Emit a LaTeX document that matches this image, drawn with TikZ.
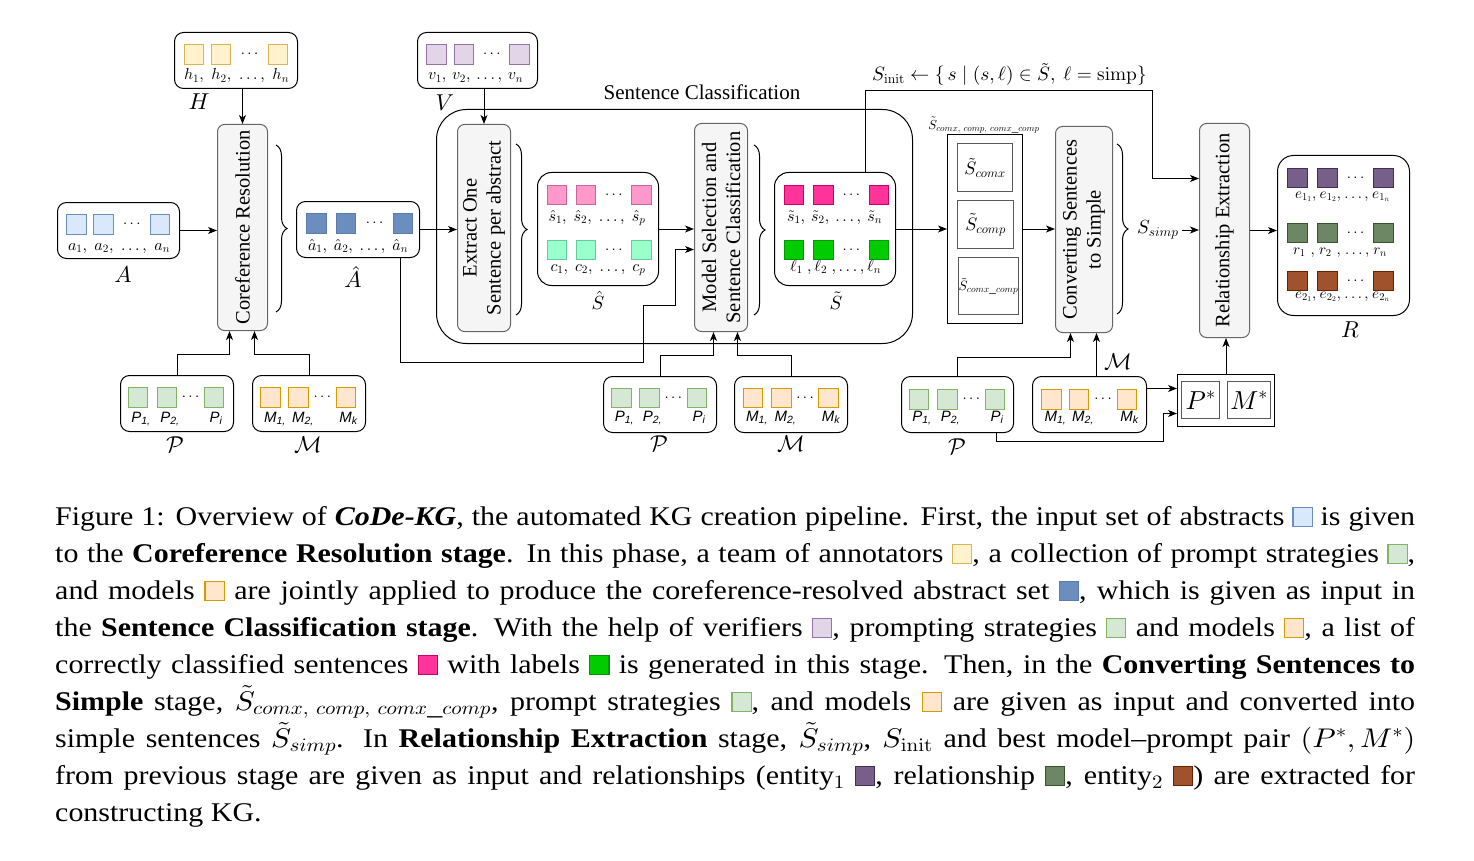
\documentclass[tikz,border=0pt]{standalone}
\usepackage{graphicx}
\usepackage[no-math]{fontspec}
\setmainfont{Liberation Serif}
\newfontfamily\sfx{Liberation Sans}
\DeclareFontShape{OML}{cmm}{m}{it}{<->cmmi10}{}
\DeclareFontShape{OMS}{cmsy}{m}{n}{<->cmsy10}{}
\DeclareFontShape{OT1}{cmr}{m}{n}{<->cmr10}{}
\DeclareFontShape{OMX}{cmex}{m}{n}{<->cmex10}{}
\usetikzlibrary{arrows.meta,calc,decorations.pathreplacing}
\definecolor{aF}{HTML}{DAE8FC}\definecolor{aS}{HTML}{6C8EBF}
\definecolor{hF}{HTML}{FFF2CC}\definecolor{hS}{HTML}{D6B656}
\definecolor{ahF}{HTML}{6C8EBF}\definecolor{ahS}{HTML}{5A7DB0}
\definecolor{vF}{HTML}{E1D5E7}\definecolor{vS}{HTML}{9673A6}
\definecolor{shF}{HTML}{FF99CC}\definecolor{shS}{HTML}{CC6699}
\definecolor{cF}{HTML}{99FFCC}\definecolor{cS}{HTML}{66CC99}
\definecolor{stF}{HTML}{FF3399}\definecolor{stS}{HTML}{CC0066}
\definecolor{lF}{HTML}{00CC00}\definecolor{lS}{HTML}{009900}
\definecolor{pF}{HTML}{D5E8D4}\definecolor{pS}{HTML}{82B366}
\definecolor{mF}{HTML}{FFE6CC}\definecolor{mS}{HTML}{D79B00}
\definecolor{eaF}{HTML}{76608A}\definecolor{eaS}{HTML}{432D57}
\definecolor{rF}{HTML}{6D8764}\definecolor{rS}{HTML}{3A5431}
\definecolor{ebF}{HTML}{A0522D}\definecolor{ebS}{HTML}{6D1F00}
\definecolor{procF}{HTML}{F5F5F5}\definecolor{procS}{HTML}{666666}
\setlength{\fboxsep}{0pt}\setlength{\fboxrule}{1pt}
\newcommand\sw[1]{\raisebox{-1pt}{\fcolorbox{#1S}{#1F}{\rule{0pt}{18pt}\rule{16.2pt}{0pt}}}}
\newcommand\capfont{\fontsize{27}{37}\selectfont}
\newcommand\capw{1225.2pt}
\newcommand\capln[1]{\scalebox{1.11}[1]{\makebox[\capw][s]{#1}}}
\newcommand\trio[6]{%
  \node[sq, fill=#6F, draw=#6S] (#1-1) at (#2,#5) {};
  \node[sq, fill=#6F, draw=#6S] (#1-2) at (#3,#5) {};
  \node[sq, fill=#6F, draw=#6S] (#1-n) at (#4,#5) {};
  \node[dotsn] (#1-d) at ($(#1-2.east)!0.5!(#1-n.west)$) {$\cdots$};}
\tikzset{
  sq/.style={minimum size=19.5pt, inner sep=0pt, line width=1pt},
  cont/.style={draw=black, fill=white, rounded corners=9pt, line width=1pt, inner sep=0pt, anchor=north west},
  plainbox/.style={draw=black, line width=1pt, inner sep=0pt, anchor=north west},
  inbox/.style={draw=black!65, line width=1.3pt, inner sep=0pt, anchor=north west},
  proc/.style={draw=procS, fill=procF, rounded corners=7pt, line width=1pt, inner sep=0pt, anchor=north west},
  conn/.style={line width=1pt},
  arr/.style={conn, -{Stealth[length=9pt,width=7pt,inset=2.5pt]}},
  brc/.style={decorate, decoration={brace, amplitude=11pt}, line width=1pt},
  rowlbl/.style={anchor=base, inner sep=0pt, font=\fontsize{16}{16}\selectfont},
  biglbl/.style={inner sep=0pt, font=\fontsize{23}{23}\selectfont},
  midlbl/.style={inner sep=0pt, font=\fontsize{19}{19}\selectfont},
  proctext/.style={font=\fontsize{20.5}{24}\selectfont, align=center},
  dotsn/.style={inner sep=0pt, font=\fontsize{15}{15}\selectfont},
  pmlbl/.style={anchor=base, inner sep=0pt, font=\sfx\itshape\fontsize{15}{15}\selectfont},
  capline/.style={anchor=base west, inner sep=0pt, font=\capfont},
}
\begin{document}
\begin{tikzpicture}[x=1pt,y=-1pt]
\fill[white] (0,0) rectangle (1474,861);
\useasboundingbox (0,0) rectangle (1474,861);

% Sentence classification container
\node[cont, rounded corners=30pt, minimum width=476pt, minimum height=234pt] (SC) at (436,109) {};
\node[anchor=base, inner sep=0pt, font=\fontsize{21}{21}\selectfont] (SCt) at (702,100) {Sentence Classification};

% data containers
\node[cont, minimum width=123pt, minimum height=56pt] (Hb) at (174,32) {};
\node[cont, minimum width=122pt, minimum height=56pt] (Ab) at (57,202) {};
\node[cont, minimum width=123pt, minimum height=56pt] (Ahb) at (296,201) {};
\node[cont, minimum width=120pt, minimum height=56pt] (Vb) at (417,32) {};
\node[cont, rounded corners=14pt, minimum width=121pt, minimum height=113pt] (Shb) at (537,172) {};
\node[cont, rounded corners=14pt, minimum width=121pt, minimum height=113pt] (Stb) at (774,172) {};
\node[cont, rounded corners=16pt, minimum width=132pt, minimum height=160pt] (Rb) at (1277,155) {};
\node[cont, minimum width=113pt, minimum height=56pt] (Plb) at (120,375) {};
\node[cont, minimum width=113pt, minimum height=56pt] (Mlb) at (252,375) {};
\node[cont, minimum width=113pt, minimum height=56pt] (Pmb) at (603,376) {};
\node[cont, minimum width=113pt, minimum height=56pt] (Mmb) at (734,376) {};
\node[cont, minimum width=112pt, minimum height=56pt] (Prb) at (901,376) {};
\node[cont, minimum width=114pt, minimum height=56pt] (Mrb) at (1032,376) {};

% process boxes
\node[proc, minimum width=50pt, minimum height=206pt, label={[proctext,rotate=90]center:Coreference Resolution}] (coref) at (217,124) {};
\node[proc, minimum width=53pt, minimum height=207pt, label={[proctext,rotate=90]center:{Extract One\\Sentence per abstract}}] (extr) at (457,124) {};
\node[proc, minimum width=53pt, minimum height=208pt, label={[proctext,rotate=90]center:{Model Selection and\\Sentence Classification}}] (model) at (694,123) {};
\node[proc, minimum width=57pt, minimum height=206pt, label={[proctext,rotate=90]center:{Converting Sentences\\to Simple}}] (conv) at (1055,126) {};
\node[proc, minimum width=50pt, minimum height=214pt, label={[proctext,rotate=90]center:Relationship Extraction}] (rel) at (1199,123) {};

% braces
\draw[brc] (276,145) -- (276,312);
\draw[brc] (516,144) -- (516,315);
\draw[brc] (754,145) -- (754,315);
\draw[brc] (1117,144) -- (1117,314);

% squares
\trio{h}{194}{221}{278}{54.5}{h}
\trio{a}{76.5}{103.5}{160}{224.5}{a}
\trio{ah}{316.5}{346}{403}{223.5}{ah}
\trio{v}{436.5}{464}{519.5}{54.5}{v}
\trio{sh}{557}{586}{641.5}{195}{sh}
\trio{c}{557}{586}{641.5}{250}{c}
\trio{st}{794}{823.5}{879}{195}{st}
\trio{l}{794}{823.5}{879}{250}{l}
\trio{ea}{1297.5}{1327.5}{1383.5}{178}{ea}
\trio{r}{1297.5}{1327.5}{1383.5}{233}{r}
\trio{eb}{1297.5}{1327.5}{1383.5}{281}{eb}
\trio{pl}{138}{167}{214}{397.5}{p}
\trio{ml}{270.5}{298.5}{346}{397.5}{m}
\trio{pm}{621.5}{649.5}{697}{398}{p}
\trio{mm}{753}{781.5}{828.5}{398}{m}
\trio{pr}{919}{947.5}{995}{399.5}{p}
\trio{mr}{1051.5}{1079}{1127}{399.5}{m}

% row labels
\node[rowlbl] (hL) at (236.5,80) {\makebox[105pt][s]{$h_1,$ $h_2,$ $\ldots,$ $h_n$}};
\node[rowlbl] (aL) at (119,250) {\makebox[102pt][s]{$a_1,$ $a_2,$ $\ldots,$ $a_n$}};
\node[rowlbl] (ahL) at (358,250) {\makebox[100pt][s]{$\hat{a}_1,$ $\hat{a}_2,$ $\ldots,$ $\hat{a}_n$}};
\node[rowlbl] (vL) at (475.5,80) {\makebox[95pt][s]{$v_1,$ $v_2,$ $\ldots,$ $v_n$}};
\node[rowlbl] (shL) at (597,221) {\makebox[97pt][s]{$\hat{s}_1,$ $\hat{s}_2,$ $\ldots,$ $\hat{s}_p$}};
\node[rowlbl] (cL) at (598,271) {\makebox[95pt][s]{$c_1,$ $c_2,$ $\ldots,$ $c_p$}};
\node[rowlbl] (stL) at (834.5,221) {\makebox[95pt][s]{$\tilde{s}_1,$ $\tilde{s}_2,$ $\ldots,$ $\tilde{s}_n$}};
\node[rowlbl] (lL) at (835,271) {\makebox[90pt][s]{$\ell_1\;,$ $\ell_2\;,$ $\ldots,$ $\ell_n$}};
\node[rowlbl, font=\fontsize{15}{15}\selectfont] (eaL) at (1342.5,198) {\makebox[95pt][s]{$e_{1_1},$ $e_{1_2},$ $\ldots,$ $e_{1_n}$}};
\node[rowlbl, font=\fontsize{15}{15}\selectfont] (rL) at (1340,254) {\makebox[94pt][s]{$r_1\;,$ $r_2\;,$ $\ldots,$ $r_n$}};
\node[rowlbl, font=\fontsize{15}{15}\selectfont] (ebL) at (1342.5,298) {\makebox[95pt][s]{$e_{2_1},$ $e_{2_2},$ $\ldots,$ $e_{2_n}$}};

% P / M labels
\node[pmlbl] (pl1) at (141,422) {P\textsubscript{1,}};
\node[pmlbl] (pl2) at (170,422) {P\textsubscript{2,}};
\node[pmlbl] (pl3) at (216,422) {P\textsubscript{i}};
\node[pmlbl] (ml1) at (275,422) {M\textsubscript{1,}};
\node[pmlbl] (ml2) at (303,422) {M\textsubscript{2,}};
\node[pmlbl] (ml3) at (348.5,422) {M\textsubscript{k}};
\node[pmlbl] (pm1) at (624.5,421) {P\textsubscript{1,}};
\node[pmlbl] (pm2) at (652.5,421) {P\textsubscript{2,}};
\node[pmlbl] (pm3) at (699,421) {P\textsubscript{i}};
\node[pmlbl] (mm1) at (757,421) {M\textsubscript{1,}};
\node[pmlbl] (mm2) at (785.5,421) {M\textsubscript{2,}};
\node[pmlbl] (mm3) at (831,421) {M\textsubscript{k}};
\node[pmlbl] (pr1) at (922,421) {P\textsubscript{1,}};
\node[pmlbl] (pr2) at (950.5,421) {P\textsubscript{2,}};
\node[pmlbl] (pr3) at (997,421) {P\textsubscript{i}};
\node[pmlbl] (mr1) at (1055.5,421) {M\textsubscript{1,}};
\node[pmlbl] (mr2) at (1083,421) {M\textsubscript{2,}};
\node[pmlbl] (mr3) at (1129.5,421) {M\textsubscript{k}};

% big labels
\node[biglbl] (Hn) at (199,102) {$H$};
\node[biglbl] (Vn) at (445,103) {$V$};
\node[biglbl] (An) at (123,275) {$A$};
\node[biglbl] (Ahn) at (353,277) {$\hat{A}$};
\node[midlbl] (Shn) at (598,300) {$\hat{S}$};
\node[midlbl] (Stn) at (836,301) {$\tilde{S}$};
\node[biglbl] (Rn) at (1350,330) {$R$};
\node[biglbl] (Pln) at (175,445) {$\mathcal{P}$};
\node[biglbl] (Mln) at (308,445) {$\mathcal{M}$};
\node[biglbl] (Pmn) at (659,444) {$\mathcal{P}$};
\node[biglbl] (Mmn) at (791,444) {$\mathcal{M}$};
\node[biglbl] (Prn) at (957,447) {$\mathcal{P}$};
\node[biglbl] (Mrn) at (1118,362) {$\mathcal{M}$};

% comx group
\node[plainbox, minimum width=75pt, minimum height=189pt] (cx) at (947,134) {};
\node[inbox, minimum width=55pt, minimum height=48pt, font=\fontsize{18}{18}\selectfont] (cx1) at (957,143) {$\tilde{S}_{comx}$};
\node[inbox, minimum width=56pt, minimum height=48pt, font=\fontsize{18}{18}\selectfont] (cx2) at (957,200) {$\tilde{S}_{comp}$};
\node[inbox, minimum width=55pt, minimum height=57pt, font=\fontsize{13.5}{13.5}\selectfont] (cx3) at (958,257) {$\tilde{S}_{comx\_comp}$};
\node[inner sep=0pt, font=\fontsize{13}{13}\selectfont] (cxl) at (984,125) {$\tilde{S}_{comx,\ comp,\ comx\_comp}$};

% P* M*
\node[plainbox, minimum width=97pt, minimum height=52pt] (PM) at (1177,374) {};
\node[inbox, minimum width=38pt, minimum height=37pt, font=\fontsize{26}{26}\selectfont] (Pst) at (1181,381) {$P^*$};
\node[inbox, minimum width=43pt, minimum height=37pt, font=\fontsize{26}{26}\selectfont] (Mst) at (1227,381) {$M^*$};

% texts on connectors
\node[anchor=base west, inner sep=0pt, font=\fontsize{19.3}{19.3}\selectfont] (sinit) at (872,81) {$S_{\mathrm{init}} \leftarrow \{\, s \mid (s,\ell) \in \tilde{S},\ \ell = \mathrm{simp}\}$};
\node[anchor=west, inner sep=0pt, font=\fontsize{19}{19}\selectfont] (ssimp) at (1137,230) {$S_{simp}$};

% connectors
\draw[arr] (coref.north |- Hb.south) -- (coref.north);
\draw[arr] (Ab.east) -- (Ab.east -| coref.west);
\draw[arr] (Ahb.east) -- (Ahb.east -| extr.west);
\draw[arr] (extr.north |- Vb.south) -- (extr.north);
\draw[arr] (Shb.east) -- (Shb.east -| model.west);
\draw[arr] ($(Ahb.south east)+(-20,0)$) |- (643,362) |- (675,305) |- ($(model.west)+(0,22)$);
\draw[arr] ($(Stb.north)+(30.5,0)$) |- (1152,91) |- ($(rel.west)+(0,-52)$);
\draw[arr] (Stb.east) -- (Stb.east -| cx.west);
\draw[arr] (cx.east) -- (cx.east -| conv.west);
\draw[arr] ([xshift=3pt]ssimp.east) -- (ssimp.east -| rel.west);
\draw[arr] (rel.east) -- (rel.east -| Rb.west);
\draw[arr] (Plb.north) |- ($(coref.south)+(-13,23)$) -- ($(coref.south)+(-13,0)$);
\draw[arr] (Mlb.north) |- ($(coref.south)+(12,23)$) -- ($(coref.south)+(12,0)$);
\draw[arr] (Pmb.north) |- ($(model.south)+(-7.5,23)$) -- ($(model.south)+(-7.5,0)$);
\draw[arr] (Mmb.north) |- ($(model.south)+(16.5,23)$) -- ($(model.south)+(16.5,0)$);
\draw[arr] (Prb.north) |- ($(conv.south)+(-13.5,24)$) -- ($(conv.south)+(-13.5,0)$);
\coordinate (cvM) at ($(conv.south)+(12.5,0)$);
\draw[arr] (cvM |- Mrb.north) -- (cvM);
\coordinate (mrOut) at ($(Mrb.east)+(0,-16)$);
\draw[arr] (mrOut) -- (mrOut -| PM.west);
\draw[arr] ($(Prb.south)+(39,0)$) |- (1163,441) |- ($(PM.west)+(0,13)$);
\draw[arr] (PM.north) -- (PM.north |- rel.south);

% caption
\node[capline] (cap1) at (55,525) {\capln{Figure 1: Overview of \textbf{\textit{CoDe-KG}}, the automated KG creation pipeline. First, the input set of abstracts \sw{a} is given}};
\node[capline] (cap2) at (55,562) {\capln{to the \textbf{Coreference Resolution stage}. In this phase, a team of annotators \sw{h}, a collection of prompt strategies \sw{p},}};
\node[capline] (cap3) at (55,599) {\capln{and models \sw{m} are jointly applied to produce the coreference-resolved abstract set \sw{ah}, which is given as input in}};
\node[capline] (cap4) at (55,636) {\capln{the \textbf{Sentence Classification stage}. With the help of verifiers \sw{v}, prompting strategies \sw{p} and models \sw{m}, a list of}};
\node[capline] (cap5) at (55,673) {\capln{correctly classified sentences \sw{st} with labels \sw{l} is generated in this stage. Then, in the \textbf{Converting Sentences to}}};
\node[capline] (cap6) at (55,710) {\capln{\textbf{Simple} stage, $\tilde{S}_{comx,\ comp,\ comx\_comp}$, prompt strategies \sw{p}, and models \sw{m} are given as input and converted into}};
\node[capline] (cap7) at (55,747) {\capln{simple sentences $\tilde{S}_{simp}$. In \textbf{Relationship Extraction} stage, $\tilde{S}_{simp}$, $S_{\mathrm{init}}$ and best model--prompt pair $(P^{*}, M^{*})$}};
\node[capline] (cap8) at (55,784) {\capln{from previous stage are given as input and relationships (entity$_1$ \sw{ea}, relationship \sw{r}, entity$_2$ \sw{eb}) are extracted for}};
\node[capline] (cap9) at (55,821) {\scalebox{1.11}[1]{constructing KG.}};
\end{tikzpicture}
\end{document}
